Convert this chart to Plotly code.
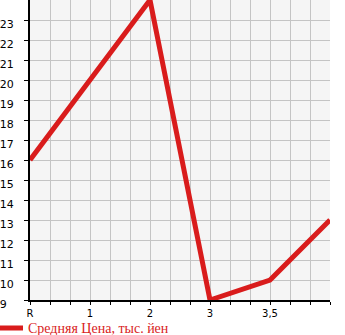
import plotly.graph_objects as go

categories = ["R", "1", "2", "3", "3,5", ""]
values = [16, 20, 24, 9, 10, 13]
y_ticks = list(range(9, 24))
series_name = "Средняя Цена, тыс. йен"

xs = list(range(len(categories)))

fig = go.Figure()
fig.add_trace(go.Scatter(
    x=xs, y=values, mode="lines", name=series_name,
    line=dict(color="#d91c1c", width=5),
))

y_text = [(str(v) + "\u2007") if v < 10 else str(v) for v in y_ticks]

fig.update_layout(
    width=345, height=335,
    margin=dict(l=30, r=15, t=0, b=35, autoexpand=False),
    paper_bgcolor="white",
    plot_bgcolor="#f5f5f5",
    showlegend=True,
    legend=dict(orientation="h", x=-0.14, xanchor="left",
                yref="container", y=0.02, yanchor="middle",
                font=dict(family="Liberation Serif", size=14, color="#d91c1c"),
                bgcolor="rgba(0,0,0,0)", itemwidth=30),
    xaxis=dict(
        range=[0, 5], tickmode="array", tickvals=xs[:5], ticktext=categories[:5],
        showgrid=True, gridcolor="#c4c4c4", gridwidth=1,
        ticks="outside", ticklen=3, tickcolor="black",
        minor=dict(dtick=1/3, tick0=0, showgrid=True, gridcolor="#c4c4c4",
                   ticks="outside", ticklen=3, tickcolor="black"),
        showline=True, linecolor="black", linewidth=2,
        tickfont=dict(family="DejaVu Sans", size=10, color="black"),
        zeroline=False, fixedrange=True,
    ),
    yaxis=dict(
        range=[9, 24], tickmode="array", tickvals=y_ticks, ticktext=y_text,
        showgrid=True, gridcolor="#c4c4c4", gridwidth=1,
        ticks="outside", ticklen=4, tickcolor="black",
        showline=True, linecolor="black", linewidth=2,
        tickfont=dict(family="DejaVu Sans", size=11, color="black"),
        ticklabelshift=4, ticklabelstandoff=8,
        zeroline=False, fixedrange=True,
    ),
)

fig.write_html("out.html", config={"displayModeBar": False})
